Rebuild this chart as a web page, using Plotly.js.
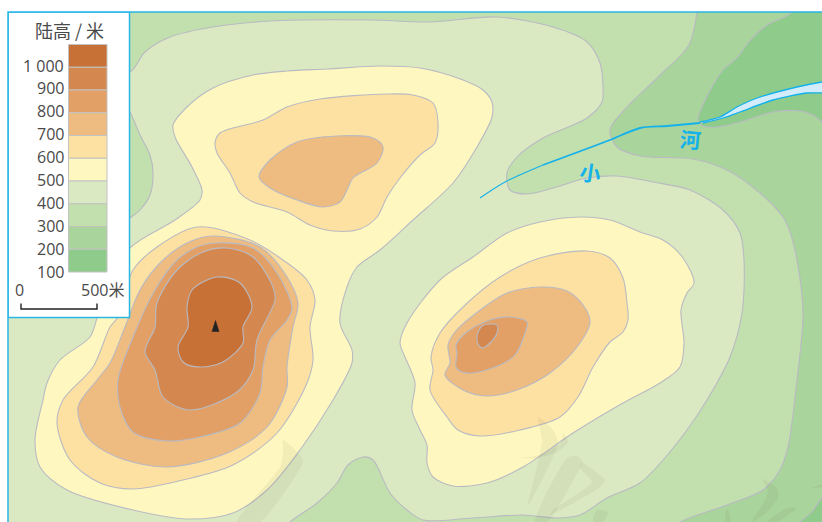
<!DOCTYPE html>
<html><head><meta charset="utf-8">
<script src="https://cdn.plot.ly/plotly-3.0.1.min.js"></script>
<style>html,body{margin:0;padding:0;background:#fff}</style></head>
<body><div id="chart" style="width:822px;height:522px"></div>
<script>
// Contour outlines, as [east, south] map positions
const c100ne = [[800,-20],[792,12],[767,25],[748,43],[737,58],[723,70],[712,87],[702,107],[698,120],[703,126],[717,127],[740,122],[773,112],[800,111],[813,115],[822,122],[860,150],[900,60],[880,-30]];
const c100se = [[840,485],[822,498],[812,512],[800,522],[785,540],[850,550]];
const c300 = [[700,-30],[697,12],[690,43],[683,53],[660,75],[653,82],[627,107],[610,130],[617,147],[640,156],[693,159],[727,170],[760,193],[783,217],[790,232],[797,260],[803,313],[797,380],[788,447],[780,470],[763,490],[727,505],[680,522],[620,560],[-70,570],[-80,-50]];
const c400 = [[-60,110],[60,90],[130,72],[145,52],[170,37],[213,27],[270,21],[370,20],[430,22],[497,17],[553,27],[587,42],[600,63],[603,87],[602,102],[587,118],[543,138],[517,157],[507,173],[510,190],[527,194],[553,188],[587,178],[617,176],[653,182],[690,190],[723,210],[740,233],[744,260],[742,313],[730,357],[707,400],[687,430],[663,460],[640,483],[607,498],[580,515],[557,518],[523,515],[473,518],[423,520],[407,510],[390,493],[373,460],[363,457],[348,465],[337,483],[317,503],[290,522],[250,560],[-70,570]];
const c300west = [[110,80],[130,112],[140,135],[150,155],[153,173],[150,195],[140,210],[130,218],[105,240],[90,160]];
const c500west = [[173,125],[187,107],[213,88],[253,75],[287,71],[327,69],[380,66],[420,68],[463,80],[483,90],[492,102],[492,117],[477,147],[453,183],[413,220],[380,250],[357,267],[347,287],[340,323],[352,350],[352,363],[333,400],[300,450],[267,490],[233,513],[187,519],[133,510],[67,490],[40,467],[35,440],[43,400],[47,383],[60,360],[90,337],[97,318],[105,290],[130,248],[175,220],[200,200],[202,190],[192,167],[175,137]];
const c500east = [[400,343],[407,323],[440,280],[473,257],[507,233],[540,222],[580,217],[610,220],[640,232],[663,240],[683,258],[694,283],[687,293],[681,310],[684,343],[680,367],[660,383],[623,403],[573,433],[523,467],[487,483],[453,486],[433,477],[427,463],[427,445],[420,430],[412,410],[415,383],[405,357]];
const c600north = [[215,143],[220,133],[263,120],[287,107],[320,99],[387,94],[413,95],[433,103],[438,123],[435,143],[420,155],[400,178],[387,197],[377,217],[360,229],[333,231],[310,225],[287,212],[253,202],[240,193],[230,173],[217,153]];
const c600west = [[197,227],[250,240],[283,260],[307,280],[315,300],[310,327],[313,360],[307,383],[277,433],[233,465],[183,480],[133,489],[100,483],[70,460],[57,423],[63,400],[93,367],[110,327],[118,317],[133,270],[157,247]];
const c600east = [[431,357],[440,333],[463,307],[500,277],[540,258],[587,251],[610,258],[623,278],[627,303],[628,320],[623,332],[610,342],[593,367],[578,397],[560,417],[520,430],[480,436],[458,430],[447,417],[430,390],[433,370]];
const c700north = [[259,177],[270,160],[297,142],[337,136],[373,138],[383,147],[377,163],[353,178],[347,190],[340,202],[323,207],[297,200],[270,188]];
const c700west = [[213,236],[260,247],[287,277],[298,303],[293,327],[287,367],[287,387],[267,427],[227,453],[167,467],[117,457],[87,437],[78,407],[97,380],[110,363],[125,327],[140,290],[160,263],[187,243]];
const c700east = [[445,375],[450,363],[448,345],[455,332],[483,308],[507,293],[540,287],[567,291],[583,305],[590,322],[577,347],[550,373],[517,390],[487,396],[463,390]];
const c800west = [[217,243],[253,248],[277,273],[292,308],[287,320],[270,340],[263,367],[260,393],[240,423],[200,437],[167,441],[133,432],[120,407],[118,380],[133,337],[155,290],[177,260],[197,247]];
const c800east = [[456,367],[457,353],[456,345],[467,332],[490,320],[510,317],[527,322],[525,333],[515,355],[500,365],[473,373],[462,372]];
const c900west = [[227,248],[253,257],[273,287],[275,300],[257,340],[253,370],[237,392],[190,410],[163,397],[155,370],[145,352],[155,327],[157,303],[177,270],[203,252]];
const c900east = [[477,336],[482,326],[490,324],[497,325],[497,333],[490,343],[482,348],[478,344]];
const c1000 = [[217,277],[240,283],[252,307],[243,327],[243,343],[223,362],[200,367],[183,362],[178,347],[188,327],[187,307],[192,290]];
const riverUpper = [[480,198],[505,182],[543,165]];
const riverMiddle = [[543,165],[610,140],[640,128],[667,126],[700,123]];
const riverMouth = [[700,122],[720,117],[737,107],[757,98],[797,87],[822,82],[850,78],[850,95],[822,93],[807,93],[773,100],[740,112],[723,118],[703,123]];
const peak = [[215.5,320.5],[219,331.5],[212,331.5]];
// Faint brush-stroke watermark
const wm1 = [[283,440],[300,455],[303,462],[260,522],[237,522],[280,467],[283,453]];
const wm2 = [[538,417],[553,430],[558,443],[547,470],[528,505],[537,467],[542,440]];
const wm3 = [[521,458],[540,455],[562,442],[563,433],[568,442],[557,452],[537,458]];
const wm4 = [[567,458],[577,456],[583,462],[580,468],[547,522],[535,522]];
const wm5 = [[582,463],[600,475],[605,480],[600,487],[550,515],[553,510],[592,482],[580,468]];
const wm6 = [[597,510],[608,512],[603,522],[593,522]];
const wm7 = [[762,479],[777,488],[778,497],[767,512],[752,522],[765,500],[768,490]];
const wm8 = [[797,508],[787,508],[767,522],[777,522]];
const wm9 = [[727,508],[731,522],[725,522]];
const wm10 = [[812,488],[822,484],[822,487]];

const legendColors = ['#c87137','#d4884f','#e2a066','#eebb80','#fde1a3','#fef8c0','#dbe9c2','#c2dfae','#a9d49b','#8fcb8b'];
const legendLabels = ['1 000','900','800','700','600','500','400','300','200','100'];
const legendTitle = '陆高 / 米';
const scaleLabels = ['0','500米'];
const riverName = ['小','河'];

const [C1000,C900,C800,C700,C600,C500,C400,C300,C200,C100] = legendColors;
const LINE='#b9bac2', BLUE='#14b1ea', FRAME='#29b6e6';
const xs=p=>p.map(a=>a[0]), ys=p=>p.map(a=>a[1]);
function band(p,color){
  const q=p.concat([p[0]]);
  return {type:'scatter',mode:'lines',x:xs(q),y:ys(q),fill:'toself',fillcolor:color,hoverinfo:'skip',
    line:{color:LINE,width:1.1,shape:'spline',smoothing:0.9}};
}
const mark=p=>{const q=p.concat([p[0]]);return {type:'scatter',mode:'lines',x:xs(q),y:ys(q),fill:'toself',fillcolor:'rgba(120,125,90,0.09)',line:{width:0,color:'rgba(0,0,0,0)',shape:'spline',smoothing:0.6},hoverinfo:'skip'}};
const river=(p,w)=>({type:'scatter',mode:'lines',x:xs(p),y:ys(p),line:{color:BLUE,width:w,shape:'spline',smoothing:0.8},hoverinfo:'skip'});
const peakQ=peak.concat([peak[0]]);

const traces=[
  band(c100ne,C100),band(c100se,C100),band(c300,C300),band(c400,C400),band(c300west,C300),
  band(c500west,C500),band(c500east,C500),
  band(c600north,C600),band(c600west,C600),band(c600east,C600),
  band(c700north,C700),band(c700west,C700),band(c700east,C700),
  band(c800west,C800),band(c800east,C800),
  band(c900west,C900),band(c900east,C900),band(c1000,C1000),
  mark(wm1),mark(wm2),mark(wm3),mark(wm4),mark(wm5),mark(wm6),mark(wm7),mark(wm8),mark(wm9),mark(wm10),
  river(riverUpper,1.1),river(riverMiddle,1.8),
  {type:'scatter',mode:'lines',x:xs(riverMouth),y:ys(riverMouth),fill:'toself',fillcolor:'#d3ecfb',line:{color:BLUE,width:1.3,shape:'spline',smoothing:0.7},hoverinfo:'skip'},
  {type:'scatter',mode:'lines',x:xs(peakQ),y:ys(peakQ),fill:'toself',fillcolor:'#222',line:{color:'#222',width:0.5},hoverinfo:'skip'}
];

const shapes=[{type:'rect',xref:'x',yref:'y',x0:8,x1:129.5,y0:12,y1:317.5,fillcolor:'#fff',line:{color:FRAME,width:1.5}}];
const top0=44.5, step=22.75;
legendColors.forEach((c,i)=>shapes.push({type:'rect',xref:'x',yref:'y',x0:68.5,x1:107,y0:top0+i*step,y1:top0+(i+1)*step,fillcolor:c,line:{color:'#c2c2c2',width:1}}));
shapes.push({type:'path',xref:'x',yref:'y',path:'M21,303.5 L21,309 L97,309 L97,303.5',line:{color:'#222',width:1.4}});
shapes.push({type:'path',xref:'paper',yref:'paper',path:'M0,0 L0,1 L1,1',line:{color:FRAME,width:1.5}});

const ann=[];
const fnt={family:'"Open Sans","Noto Sans",sans-serif',size:16,color:'#4a4a4a'};
legendLabels.forEach((t,i)=>ann.push({xref:'x',yref:'y',x:65.5,y:65.5+i*22.9,text:t,showarrow:false,xanchor:'right',yanchor:'middle',font:fnt}));
ann.push({xref:'x',yref:'y',x:69.5,y:29.5,text:legendTitle,showarrow:false,font:{family:'"Noto Sans CJK SC"',size:18,color:'#4a4a4a'},yanchor:'middle'});
ann.push({xref:'x',yref:'y',x:19,y:290,text:scaleLabels[0],showarrow:false,font:fnt,yanchor:'middle'});
ann.push({xref:'x',yref:'y',x:126,y:290,text:scaleLabels[1],showarrow:false,xanchor:'right',font:{family:'"Open Sans","Noto Sans CJK SC"',size:16,color:'#4a4a4a'},yanchor:'middle'});
ann.push({xref:'x',yref:'y',x:590,y:172,text:'<b>'+riverName[0]+'</b>',showarrow:false,textangle:8,font:{family:'"Noto Sans CJK SC"',size:21,color:BLUE},yanchor:'middle'});
ann.push({xref:'x',yref:'y',x:690,y:139,text:'<b>'+riverName[1]+'</b>',showarrow:false,textangle:5,font:{family:'"Noto Sans CJK SC"',size:21,color:BLUE},yanchor:'middle'});

Plotly.newPlot('chart',traces,{
  width:822,height:522,margin:{l:8,r:0,t:12,b:0},showlegend:false,
  paper_bgcolor:'#fff',plot_bgcolor:C200,
  xaxis:{range:[8,822],showgrid:false,zeroline:false,showticklabels:false,ticks:'',fixedrange:true},
  yaxis:{range:[522,12],showgrid:false,zeroline:false,showticklabels:false,ticks:'',fixedrange:true},
  shapes:shapes,annotations:ann
},{displayModeBar:false,staticPlot:true});
</script></body></html>
